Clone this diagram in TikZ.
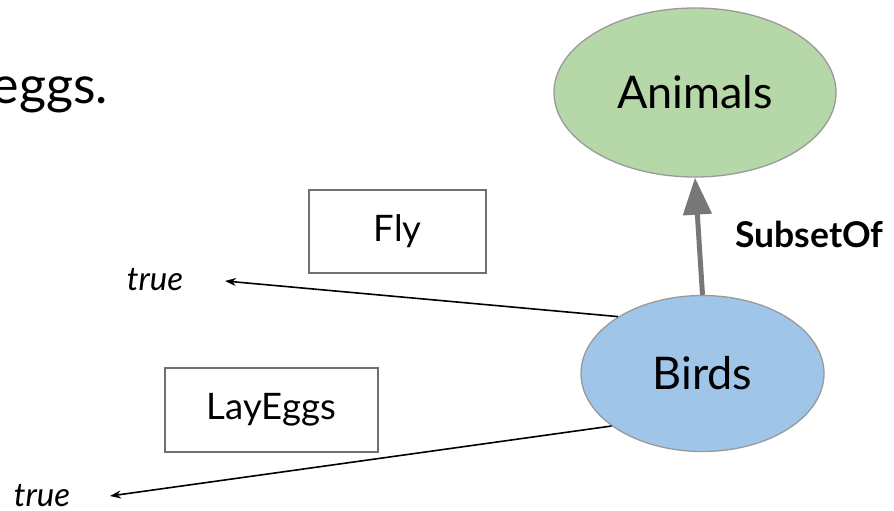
\documentclass[tikz,border=0pt]{standalone}
\usepackage{fontspec}
\setmainfont{Lato}
\usetikzlibrary{shapes.geometric,arrows.meta}

\definecolor{animalfill}{HTML}{B6D7A8}
\definecolor{birdfill}{HTML}{9FC5E8}
\definecolor{ovaledge}{HTML}{9A9A9A}
\definecolor{boxedge}{HTML}{707070}
\definecolor{linkgray}{HTML}{777777}

\tikzset{
  oval/.style={ellipse, draw=ovaledge, line width=1.3pt, inner sep=0pt,
    font=\fontsize{45}{50}\selectfont},
  propbox/.style={rectangle, draw=boxedge, line width=1.4pt, inner sep=0pt,
    font=\fontsize{36.5}{42}\selectfont},
  valtext/.style={inner sep=0pt, font=\fontsize{33}{38}\selectfont\itshape},
  proparrow/.style={line width=1.6pt, -{Stealth[length=11pt, width=8pt]}},
  subsetarrow/.style={draw=linkgray, line width=5pt,
    -{Triangle[length=37pt, width=28pt]}},
}

\begin{document}
\begin{tikzpicture}[x=1pt, y=-1pt]
  \useasboundingbox (0,0) rectangle (894,511);

  % leftover word of the slide text
  \node[anchor=base east, inner sep=0pt, font=\fontsize{52}{60}\selectfont]
    (eggs) at (108,103) {eggs.};

  % class ovals
  \node[oval, fill=animalfill, minimum width=282pt, minimum height=169pt]
    (animals) at (695,92.5) {Animals};
  \node[oval, fill=birdfill, minimum width=243pt, minimum height=156pt]
    (birds) at (702.5,373.5) {Birds};

  % property boxes
  \node[propbox, minimum width=177pt, minimum height=83pt]
    (fly) at (397.5,231.5) {Fly};
  \node[propbox, minimum width=213pt, minimum height=84pt]
    (layeggs) at (271.5,410) {LayEggs};

  % property values
  \node[valtext, anchor=base] (trueA) at (155,290) {true};
  \node[valtext, anchor=base] (trueB) at (42,506) {true};
  \coordinate (tipA) at (225,281);
  \coordinate (tipB) at (110,496);

  % subset relation
  \draw[subsetarrow] (birds.north) -- (animals.south);
  \node[anchor=base west, inner sep=0pt, font=\fontsize{35.5}{40}\selectfont\bfseries]
    (subsetlabel) at (735,247) {SubsetOf};

  % property value arrows
  \draw[proparrow] (birds.146) -- (tipA);
  \draw[proparrow] (birds.210) -- (tipB);
\end{tikzpicture}
\end{document}
